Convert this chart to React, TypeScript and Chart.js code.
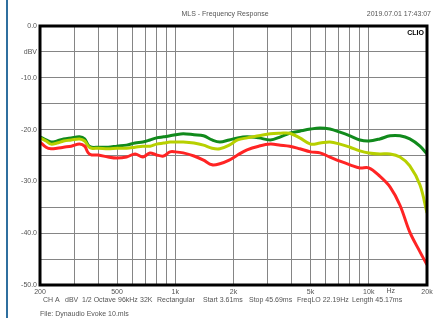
import React, { useEffect, useRef } from "react";
import { Chart, registerables } from "chart.js";
Chart.register(...registerables);

const freqs = [200, 215, 228, 245, 265, 290, 320, 340, 355, 370, 400, 450, 500, 560, 620, 680, 740, 800, 870, 940, 1000, 1100, 1250, 1400, 1550, 1700, 1900, 2100, 2350, 2700, 3100, 3500, 3900, 4400, 5000, 5600, 6300, 7100, 8000, 9000, 10000, 11400, 12900, 14500, 16300, 18400, 20000];
const greenDb = [-21.4, -22.0, -22.4, -22.2, -21.8, -21.6, -21.4, -21.8, -23.0, -23.4, -23.4, -23.4, -23.2, -23.0, -22.6, -22.4, -22.0, -21.6, -21.4, -21.2, -21.0, -20.8, -21.0, -21.2, -22.0, -22.4, -22.0, -21.6, -21.4, -21.6, -22.0, -21.4, -20.7, -20.3, -19.9, -19.7, -19.9, -20.5, -21.2, -22.0, -22.2, -21.8, -21.2, -21.2, -21.8, -23.2, -24.7];
const yellowDb = [-21.6, -22.2, -22.8, -22.6, -22.2, -22.0, -21.8, -22.2, -23.2, -23.6, -23.6, -23.7, -23.6, -23.6, -23.4, -23.2, -23.2, -22.8, -22.6, -22.4, -22.4, -22.4, -22.6, -23.0, -23.6, -23.7, -23.0, -22.0, -21.6, -21.2, -20.8, -20.7, -20.7, -21.6, -22.8, -22.6, -22.4, -22.8, -23.4, -24.1, -24.5, -24.7, -24.7, -25.3, -27.0, -30.7, -36.1];
const redDb = [-22.4, -23.4, -23.7, -23.6, -23.4, -23.2, -22.8, -23.2, -24.5, -24.9, -24.9, -25.3, -25.5, -25.3, -24.7, -25.3, -24.5, -24.9, -25.1, -24.3, -24.3, -24.5, -25.1, -25.9, -26.8, -26.6, -25.9, -24.9, -23.9, -23.2, -22.8, -23.0, -23.2, -23.7, -24.3, -24.5, -25.3, -26.1, -26.8, -27.4, -27.4, -29.0, -31.1, -34.6, -39.8, -43.6, -46.1];

const xGridTicks = [200, 300, 400, 500, 600, 700, 800, 900, 1000, 2000, 3000, 4000, 5000, 6000, 7000, 8000, 9000, 10000, 20000];
const xTickLabels: Record<number, string> = { 200: "200", 500: "500", 1000: "1k", 2000: "2k", 5000: "5k", 10000: "10k", 20000: "20k" };
const unitX = "Hz";
const unitXFreq = 13000;
const unitY = "dBV";
const titleText = "MLS - Frequency Response";
const dateText = "2019.07.01 17:43:07";
const brandText = "CLIO";
const infoTokens = ["CH A", "dBV", "1/2 Octave", "96kHz", "32K", "Rectangular", "Start 3.61ms", "Stop 45.69ms", "FreqLO 22.19Hz", "Length 45.17ms"];
const infoX = [43, 65, 82, 118, 140, 157, 203, 249, 297, 352];
const fileText = "File: Dynaudio Evoke 10.mls";

const FONT = "'Liberation Sans', Arial, sans-serif";

const decor = {
  id: "decor",
  afterDraw(chart: any) {
    const { ctx, chartArea: a } = chart;
    ctx.save();
    ctx.strokeStyle = "#2f6f9f";
    ctx.lineWidth = 2;
    ctx.beginPath();
    ctx.moveTo(7, 0);
    ctx.lineTo(7, 318);
    ctx.stroke();
    ctx.strokeStyle = "#000";
    ctx.lineWidth = 3;
    ctx.strokeRect(a.left, a.top, a.right - a.left, a.bottom - a.top);
    ctx.fillStyle = "#555";
    ctx.font = `7px ${FONT}`;
    ctx.textBaseline = "middle";
    ctx.textAlign = "center";
    ctx.fillText(titleText, 225, 14);
    ctx.textAlign = "right";
    ctx.fillText(dateText, 431, 14);
    ctx.textAlign = "center";
    const hx = chart.scales.x.getPixelForValue(unitXFreq);
    ctx.fillText(unitX, hx, a.bottom + 6);
    ctx.textAlign = "left";
    infoTokens.forEach((t, i) => ctx.fillText(t, infoX[i], 300));
    ctx.fillText(fileText, 40, 314);
    ctx.fillStyle = "#000";
    ctx.font = `bold 7px ${FONT}`;
    ctx.textAlign = "right";
    ctx.fillText(brandText, a.right - 3, a.top + 7);
    ctx.restore();
  },
};

export default function App() {
  const ref = useRef<HTMLCanvasElement>(null);
  useEffect(() => {
    document.body.style.margin = "0";
    const mk = (vals: number[]) => freqs.map((f, i) => ({ x: f, y: vals[i] }));
    const ds = (label: string, vals: number[], color: string) => ({
      label,
      data: mk(vals),
      borderColor: color,
      backgroundColor: color,
      borderWidth: 3,
      pointRadius: 0,
      tension: 0.35,
      fill: false,
    });
    const chart = new Chart(ref.current!, {
      type: "line",
      data: {
        datasets: [
          ds("Red", redDb, "#ff2424"),
          ds("Yellow", yellowDb, "#b7d000"),
          ds("Green", greenDb, "#118a1c"),
        ],
      },
      options: {
        animation: false,
        responsive: false,
        layout: { padding: { left: 0, top: 26, right: 10, bottom: 0 } },
        plugins: { legend: { display: false }, tooltip: { enabled: false } },
        scales: {
          x: {
            type: "logarithmic",
            min: 200,
            max: 20000,
            afterBuildTicks: (s: any) => {
              s.ticks = xGridTicks.map((v) => ({ value: v }));
            },
            afterFit: (s: any) => {
              s.height = 33;
            },
            grid: { color: "#858585", lineWidth: 1, drawTicks: false },
            border: { display: false },
            ticks: {
              autoSkip: false,
              maxRotation: 0,
              padding: 3,
              color: "#555",
              font: { family: FONT, size: 7 },
              callback: (v: any) => xTickLabels[Number(v)] ?? "",
            },
          },
          y: {
            min: -50,
            max: 0,
            afterFit: (s: any) => {
              s.width = 40;
            },
            grid: { color: "#858585", lineWidth: 1, drawTicks: false },
            border: { display: false },
            ticks: {
              stepSize: 5,
              padding: 3,
              color: "#555",
              font: { family: FONT, size: 7 },
              callback: (v: any) => {
                const n = Number(v);
                if (n === -5) return unitY;
                if (n % 10 === 0) return n.toFixed(1);
                return "";
              },
            },
          },
        },
      },
      plugins: [decor],
    });
    return () => chart.destroy();
  }, []);
  return (
    <div style={{ position: "absolute", left: 0, top: 0, width: 437, height: 318, background: "#fff" }}>
      <canvas ref={ref} width={437} height={318} />
    </div>
  );
}
